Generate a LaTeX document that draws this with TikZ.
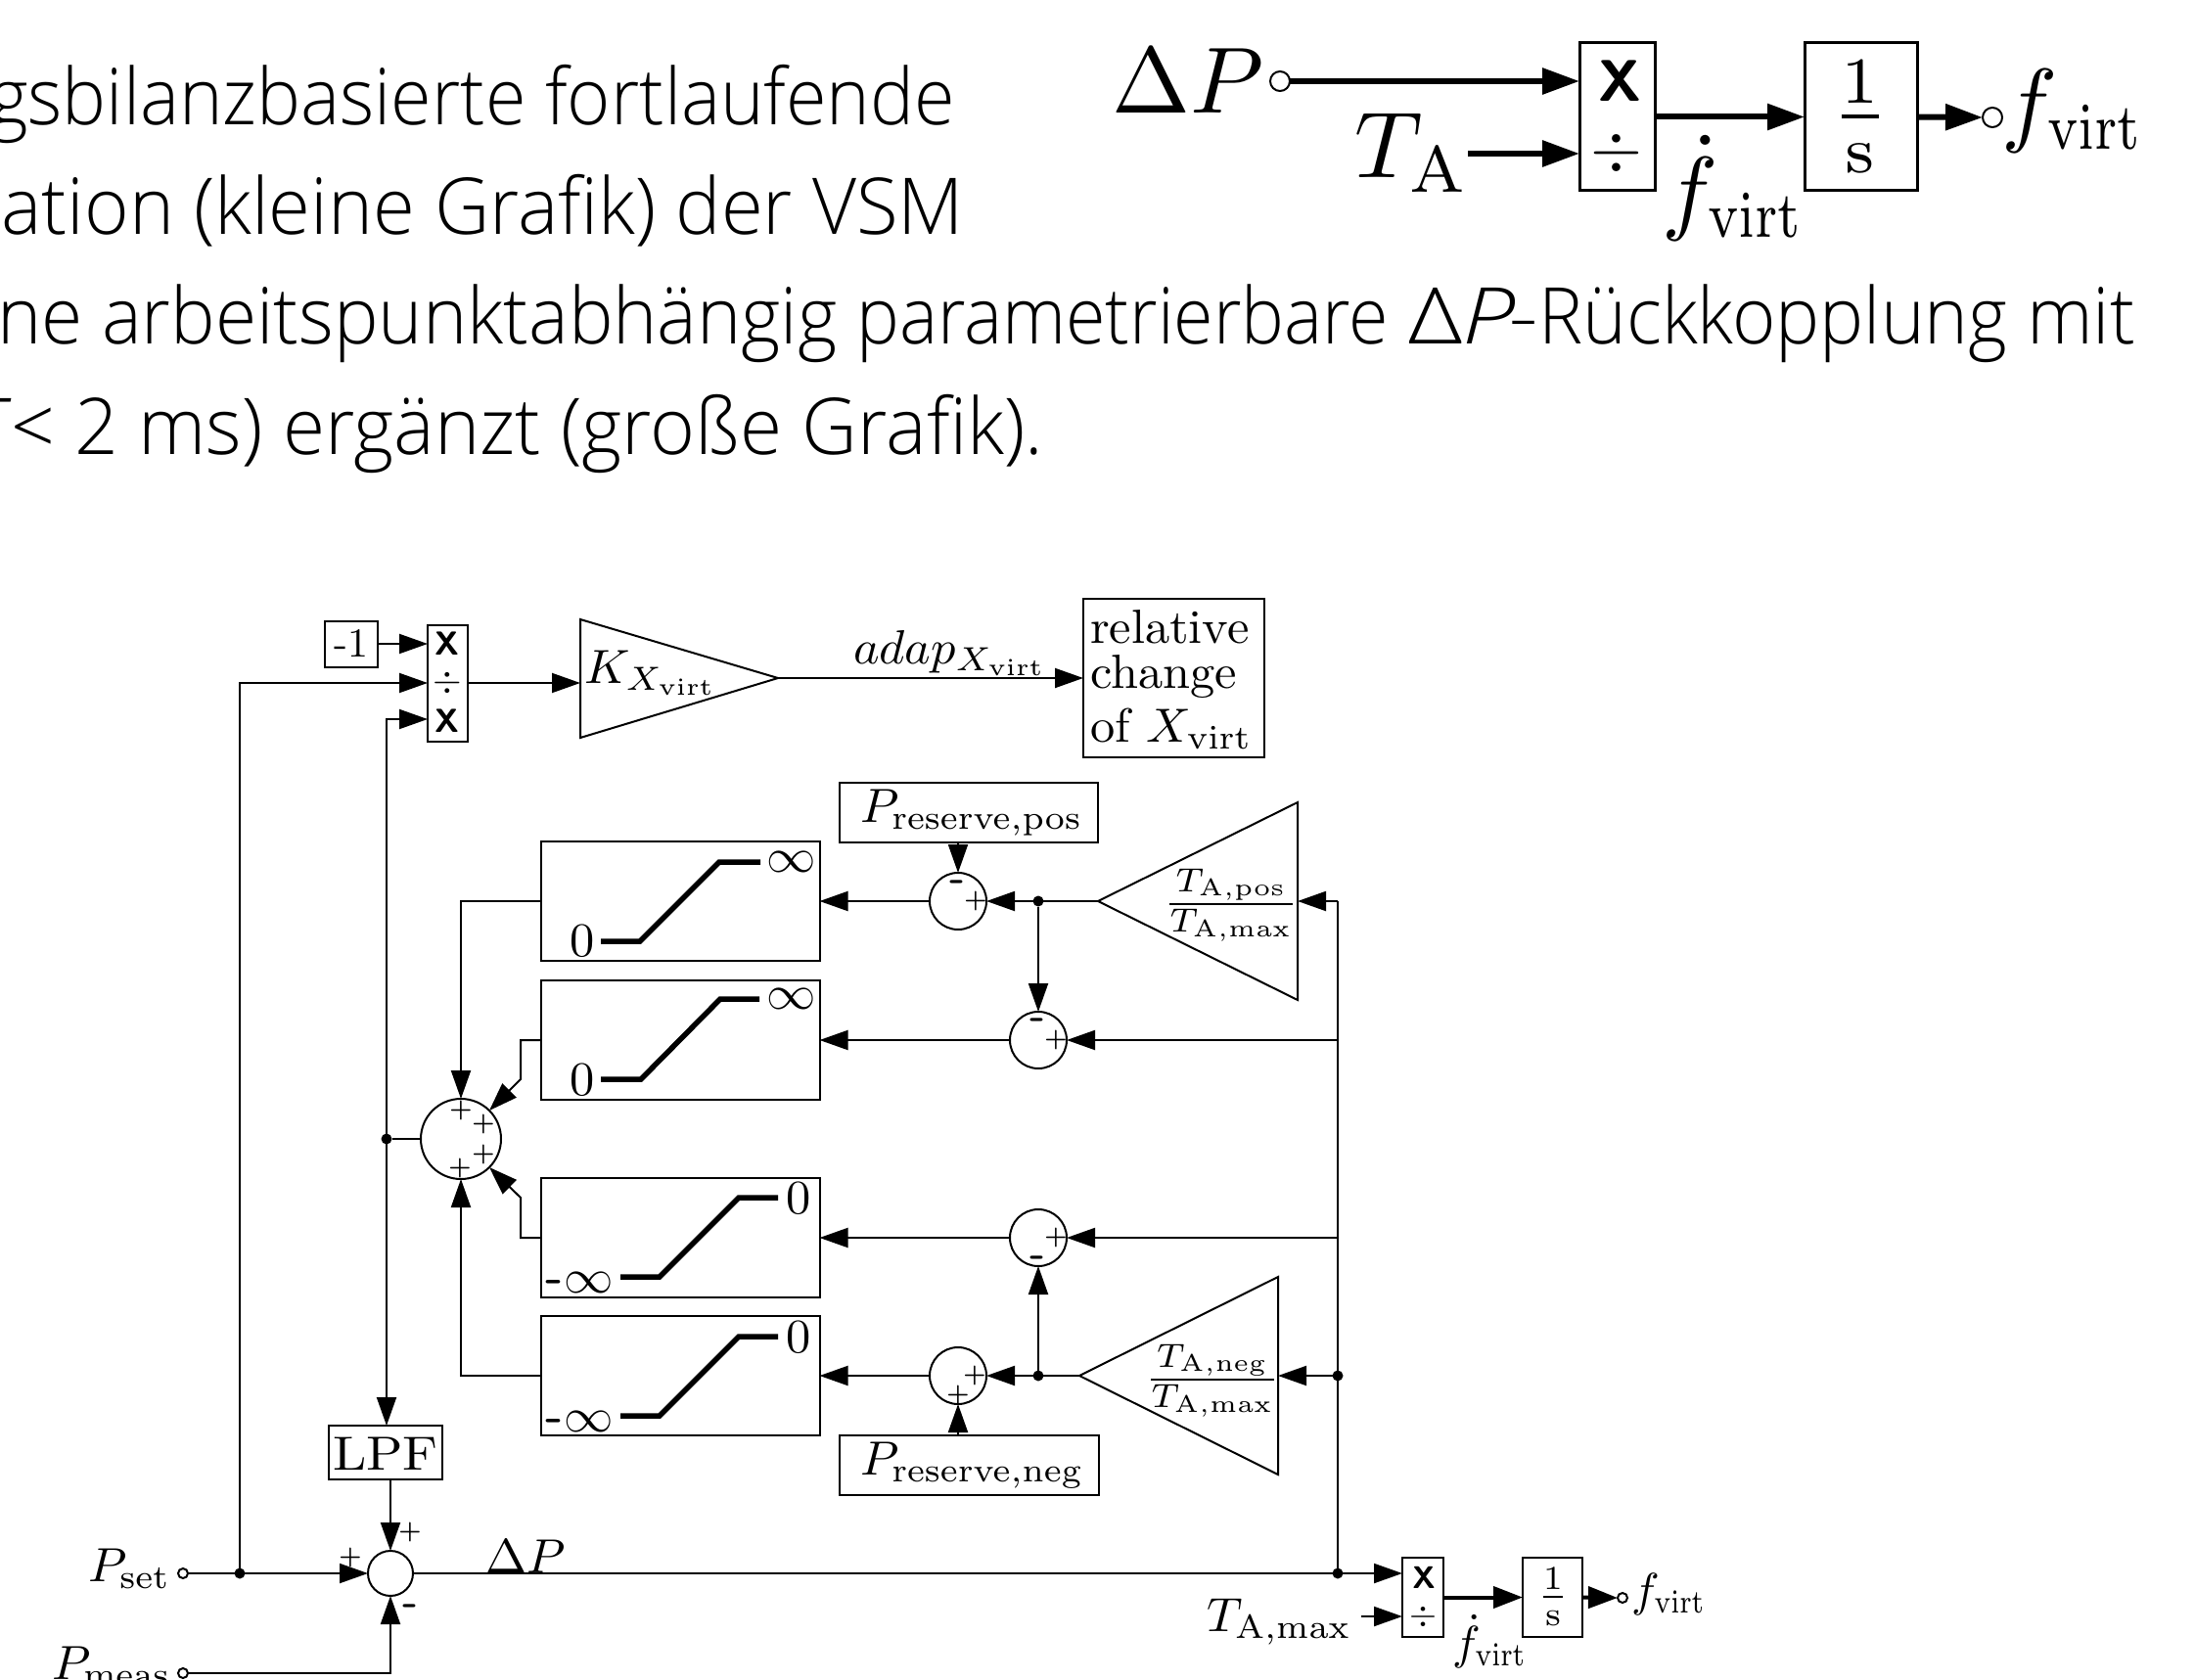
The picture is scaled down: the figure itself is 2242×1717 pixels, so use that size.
\documentclass[tikz,border=0pt]{standalone}
\usepackage{graphicx}
\usepackage[no-math]{fontspec}
\usetikzlibrary{arrows.meta}
\newfontfamily\txtfont{Open Sans Light}
\newcommand{\sml}[1]{\scalebox{2.52}[2.45]{#1}}
\newcommand{\bgl}[1]{\scalebox{4.8}{#1}}
\newcommand{\lineA}[2]{\scalebox{#1}[1]{#2}}
\newcommand{\virtn}{\scalebox{.83}[1]{$\scriptstyle\mathrm{virt}$}}
\newcommand{\virtb}{\scalebox{.78}[1]{$\scriptstyle\mathrm{virt}$}}
\tikzset{
  x=0.5pt,y=-0.5pt,
  txtline/.style={inner sep=0,outer sep=0,anchor=base east,font=\fontsize{40}{40}\selectfont\txtfont},
  lbl/.style={inner sep=0,outer sep=0,anchor=base west},
  lblc/.style={inner sep=0,outer sep=0},
  box/.style 2 args={draw,rectangle,inner sep=0,outer sep=0,line width=1pt,minimum width=#1*0.5pt,minimum height=#2*0.5pt},
  bigbox/.style 2 args={draw,rectangle,inner sep=0,outer sep=0,line width=1.5pt,minimum width=#1*0.5pt,minimum height=#2*0.5pt},
  sumc/.style={draw,circle,inner sep=0,outer sep=0,line width=1pt,minimum size=#1*0.5pt},
  opencirc/.style={draw,circle,fill=white,inner sep=0,outer sep=0,line width=1pt,minimum size=#1*0.5pt},
  junct/.style={circle,fill=black,inner sep=0,outer sep=0,minimum size=5.5pt},
  wire/.style={line width=1pt},
  arr/.style={line width=1pt,-{Triangle[length=14.5pt,width=10pt]}},
  arrtwo/.style={line width=1pt,{Triangle[length=14.5pt,width=10pt]}-{Triangle[length=14.5pt,width=10pt]}},
  arrmid/.style={line width=2pt,-{Triangle[length=15pt,width=11pt]}},
  arrbig/.style={line width=3pt,-{Triangle[length=19pt,width=13pt]}},
  sat/.style={line width=2.75pt},
  tri/.style={line width=1pt,line join=miter},
  sgn/.style={inner sep=0,outer sep=0},
  neg/.style={inner sep=0,outer sep=0,yshift=-2.5pt,font=\fontsize{22}{22}\selectfont\sffamily\bfseries},
  mx/.style={inner sep=0,outer sep=0,font=\fontsize{#1}{#1}\selectfont\sffamily\bfseries},
}
\newcommand{\plussign}{\scalebox{1.3}{\boldmath$+$}}
\begin{document}
\begin{tikzpicture}
\useasboundingbox (0,0) rectangle (2242,1717);
\clip (0,0) rectangle (2242,1717);
\fill[white] (0,0) rectangle (2242,1717);

% running text
\node[txtline] (t1) at (976,128) {\lineA{.945}{gsbilanzbasierte fortlaufende}};
\node[txtline] (t2) at (985,240) {\lineA{.974}{ation (kleine Grafik) der VSM}};
\node[txtline] (t3) at (2182,352) {\lineA{.959}{ne arbeitspunktabhängig \scalebox{.96}[1]{parametrierbare} \scalebox{1.26}[1]{Δ\textit{P}\kern-3pt-}\scalebox{.989}[1]{Rückkopplung} mit}};
\node[txtline] (t4) at (1066,464) {\lineA{.98}{\textit{T}< 2 ms) ergänzt (große Grafik).}};

% small diagram, top right
\node[lbl] (dP) at (1136,116) {\bgl{$\Delta P$}};
\node[opencirc=20] (dPo) at (1308,83) {};
\node[bigbox={77}{151}] (tmul) at (1652.5,119.5) {};
\node[mx=30] (tx) at (1655,83) {X};
\node[lblc] (tdiv) at (1652,157) {\scalebox{3.4}{$\div$}};
\node[lbl] (TA) at (1384,182) {\bgl{$T_{\mathrm{A}}$}};
\coordinate (TAo) at (1500,157);
\node[bigbox={115}{151}] (tint) at (1901.5,119.5) {};
\node[lblc] (tfrac) at (1901,119) {\bgl{$\frac{1}{\mathrm{s}}$}};
\node[lbl] (tfd) at (1698,228) {\bgl{$\dot f_{\virtb}$}};
\node[opencirc=20] (tfo) at (2036,120) {};
\node[lbl] (tf) at (2045,138) {\bgl{$f_{\virtb}$}};
\draw[arrbig] (dPo.east) -- (tmul.west |- dPo);
\draw[arrbig] (TAo) -- (tmul.west |- TAo);
\draw[arrbig] (tmul.east) -- (tint.west);
\draw[arrbig] (tint.east) -- (tfo.west);

% multiplier block and gain
\node[box={54}{47}] (mone) at (359,658) {};
\node[lblc] (mlbl) at (359,658) {\scalebox{2.1}{-1}};
\node[box={41}{119}] (mult) at (457.5,698.5) {};
\node[mx=17] (mx1) at (457,658) {X};
\node[lblc] (mdv) at (457,698) {\scalebox{1.9}{$\div$}};
\node[mx=17] (mx2) at (457,737) {X};
\coordinate (mi2) at (437,698);
\coordinate (mi3) at (437,735);
\coordinate (mo) at (478,698);
\coordinate (vtop) at (395,735);
\draw[tri] (593,633) coordinate (kt) -- (795,693) coordinate (kapex) -- (593,754) coordinate (kb) -- cycle;
\coordinate (kin) at (593,698);
\node[lbl] (klbl) at (597,698) {\sml{$K_{X_{\mathrm{virt}}}$}};
\node[lbl] (adap) at (872,678) {\sml{$adap_{X_{\mathrm{virt}}}$}};
\node[box={185}{162}] (rel) at (1199.5,693) {};
\node[lbl] (rel1) at (1114,657) {\sml{relative}};
\node[lbl] (rel2) at (1114,703) {\sml{change}};
\node[lbl] (rel3) at (1114,758) {\sml{of $X_{\mathrm{virt}}$}};
\draw[arr] (mone.east) -- (mult.west |- mone);
\draw[arr] (mo) -- (kin);
\draw[arr] (kapex) -- (rel.west |- kapex);

% reserve boxes
\node[box={264}{61}] (ppos) at (990,830.5) {};
\node[lbl] (pposl) at (879,840) {\sml{$P_{\mathrm{reserve,pos}}$}};
\node[box={265}{61}] (pneg) at (990.5,1497.5) {};
\node[lbl] (pnegl) at (879,1507) {\sml{$P_{\mathrm{reserve,neg}}$}};

% gain triangles
\draw[tri] (1326,820) -- (1122,921) coordinate (tpA) -- (1326,1022) -- cycle;
\coordinate (tpB) at (1326,921);
\node[lblc] (tpl) at (1258,925) {\sml{$\frac{T_{\mathrm{A,pos}}}{T_{\mathrm{A,max}}}$}};
\draw[tri] (1306,1305) -- (1103,1406) coordinate (tnA) -- (1306,1507) -- cycle;
\coordinate (tnB) at (1306,1406);
\node[lblc] (tnl) at (1239,1411) {\sml{$\frac{T_{\mathrm{A,neg}}}{T_{\mathrm{A,max}}}$}};

% saturation blocks
\node[box={285}{122}] (sat1) at (695,921) {};
\draw[sat] (614,962) -- (654,962) -- (735,881) -- (777,881);
\node[lblc] (s1lo) at (595,962) {\sml{$0$}};
\node[lblc] (s1hi) at (809,881) {\sml{$\infty$}};
\node[box={285}{122}] (sat2) at (695,1063) {};
\draw[sat] (614,1103) -- (655,1103) -- (736,1021) -- (776,1021);
\node[lblc] (s2lo) at (595,1104) {\sml{$0$}};
\node[lblc] (s2hi) at (809,1021) {\sml{$\infty$}};
\node[box={285}{122}] (sat3) at (695,1265) {};
\draw[sat] (634,1305) -- (674,1305) -- (755,1224) -- (795,1224);
\node[lblc] (s3hi) at (816,1225) {\sml{$0$}};
\node[lblc] (s3lo) at (592,1311) {\sml{{\sffamily\bfseries -}$\infty$}};
\node[box={285}{122}] (sat4) at (695,1406) {};
\draw[sat] (634,1447) -- (674,1447) -- (755,1366) -- (795,1366);
\node[lblc] (s4hi) at (816,1367) {\sml{$0$}};
\node[lblc] (s4lo) at (592,1453) {\sml{{\sffamily\bfseries -}$\infty$}};

% sum points, right
\node[sumc=58] (s1) at (979,921) {};
\node[sgn] at (997,921) {\plussign};
\node[neg] at (979,901) {-};
\node[sumc=58] (s2) at (1061,1063) {};
\node[sgn] at (1079,1063) {\plussign};
\node[neg] at (1061,1042) {-};
\node[sumc=58] (s3) at (1061,1265) {};
\node[sgn] at (1079,1265) {\plussign};
\node[neg] at (1061,1285) {-};
\node[sumc=58] (s4) at (979,1406) {};
\node[sgn] at (996,1406) {\plussign};
\node[sgn] at (979,1426) {\plussign};

% adder of the four branches
\node[sumc=82] (bs) at (471,1164) {};
\node[sgn] at (471,1135) {\plussign};
\node[sgn] at (494,1149) {\plussign};
\node[sgn] at (494,1180) {\plussign};
\node[sgn] at (470,1194) {\plussign};
\coordinate (s2a) at (532,1063);
\coordinate (s2b) at (532,1103);
\coordinate (bs2) at (500,1135);
\coordinate (s3a) at (532,1265);
\coordinate (s3b) at (532,1224);
\coordinate (bs3) at (500,1193);

% input section
\node[box={116}{55}] (lpf) at (394,1484.5) {};
\node[lblc] (lpfl) at (394,1486) {\scalebox{2.75}[2.45]{LPF}};
\node[sumc=46] (bsum) at (399,1608) {};
\node[sgn] at (419,1566) {\plussign};
\node[sgn] at (358,1592) {\plussign};
\node[neg] at (420,1641) {-};
\node[lbl] (pset) at (90,1616) {\sml{$P_{\mathrm{set}}$}};
\node[opencirc=10] (oset) at (187,1608) {};
\node[lbl] (pmeas) at (53,1716) {\sml{$P_{\mathrm{meas}}$}};
\node[opencirc=10] (omeas) at (187,1710) {};
\node[lbl] (dpl) at (496,1607) {\sml{$\Delta P$}};
\node[junct] (jset) at (245,1608) {};
\node[junct] (jsum) at (395,1164) {};
\node[junct] (jmain) at (1367,1608) {};
\node[junct] (jneg2) at (1367,1406) {};
\node[junct] (jneg) at (1061,1406) {};
\node[junct] (jpos) at (1061,921) {};
\coordinate (bus) at (1367,921);

% small diagram, bottom right
\node[box={42}{81}] (smul) at (1454,1632.5) {};
\node[mx=16] (smx) at (1455,1612) {X};
\node[lblc] (smd) at (1454,1652) {\scalebox{1.8}{$\div$}};
\node[lbl] (tamax) at (1233,1667) {\sml{$T_{\mathrm{A,max}}$}};
\coordinate (tamo) at (1391,1652);
\node[box={61}{81}] (sint) at (1586.5,1632.5) {};
\node[lblc] (sfr) at (1587,1632) {\sml{$\frac{1}{\mathrm{s}}$}};
\node[opencirc=10] (sfo) at (1658,1633) {};
\node[lbl] (sf) at (1667,1641) {\scalebox{2.4}{$f_{\virtn}$}};
\node[lbl] (sfd) at (1484,1695) {\scalebox{2.4}{$\dot f_{\virtn}$}};

% connectors
\draw[arr] (jset) |- (mi2);
\draw[arrtwo] (vtop |- lpf.north) -- (vtop) -- (mi3);
\draw[wire] (jsum) -- (bs.west);
\draw[arr] (bsum.north |- lpf.south) -- (bsum.north);
\draw[arr] (oset.east) -- (bsum.west);
\draw[arr] (omeas.east) -| (bsum.south);
\draw[arr] (bsum.east) -- (smul.west |- bsum);
\draw[wire] (jmain) -- (bus);
\draw[arr] (bus) -- (tpB);
\draw[arr] (jneg2) -- (tnB);
\draw[arr] (jmain |- s2) -- (s2.east);
\draw[arr] (jmain |- s3) -- (s3.east);
\draw[arr] (tpA) -- (s1.east);
\draw[arr] (tnA) -- (s4.east);
\draw[arr] (jpos) -- (s2.north);
\draw[arr] (jneg) -- (s3.south);
\draw[arr] (s1.north |- ppos.south) -- (s1.north);
\draw[arr] (s4.south |- pneg.north) -- (s4.south);
\draw[arr] (s1.west) -- (sat1.east);
\draw[arr] (s2.west) -- (sat2.east);
\draw[arr] (s3.west) -- (sat3.east);
\draw[arr] (s4.west) -- (sat4.east);
\draw[arr] (sat1.west) -| (bs.north);
\draw[arr] (sat2.west) -- (s2a) -- (s2b) -- (bs2);
\draw[arr] (sat3.west) -- (s3a) -- (s3b) -- (bs3);
\draw[arr] (sat4.west) -| (bs.south);
\draw[arr] (tamo) -- (smul.west |- tamo);
\draw[arrmid] (smul.east) -- (sint.west);
\draw[arrmid] (sint.east) -- (sfo.west);
\end{tikzpicture}
\end{document}
